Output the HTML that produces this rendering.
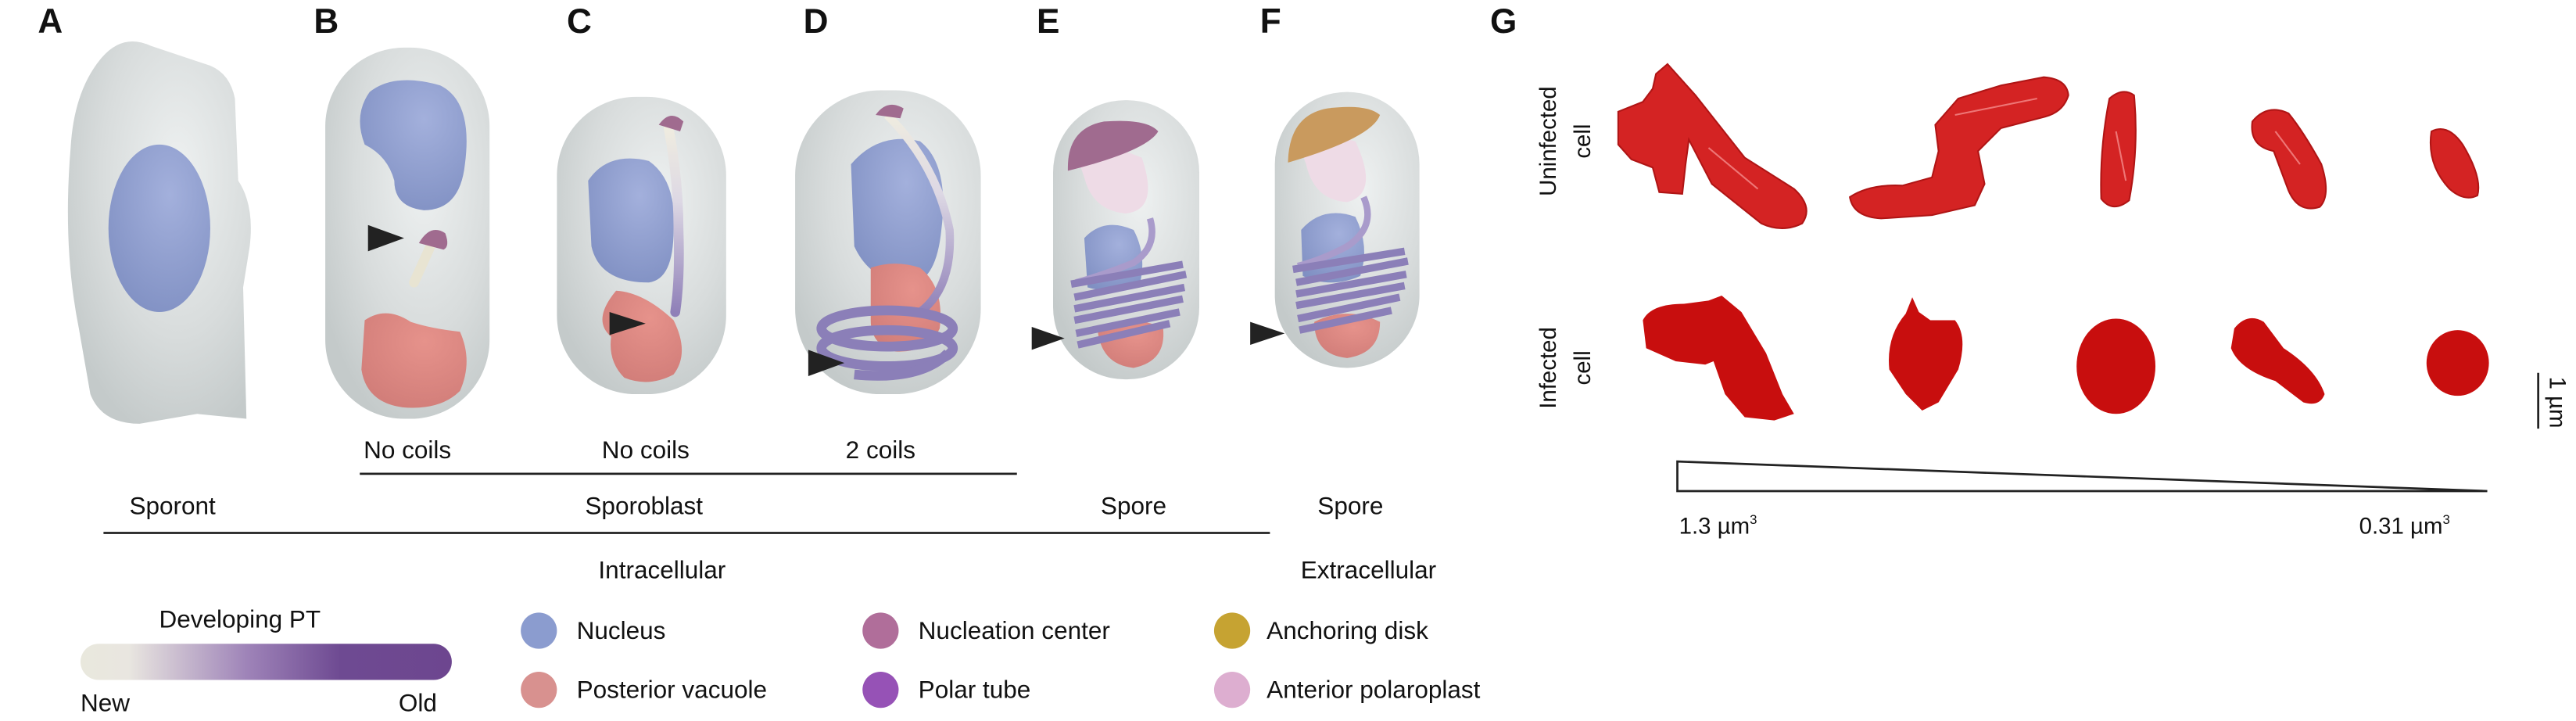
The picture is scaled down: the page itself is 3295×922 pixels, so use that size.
<!DOCTYPE html>
<html><head><meta charset="utf-8"><style>
html,body{margin:0;padding:0;background:#fff;}
svg{display:block;}
text{font-family:"Liberation Sans",sans-serif;fill:#111;}
</style></head><body>
<svg width="3295" height="922" viewBox="0 0 1568 439" preserveAspectRatio="none" xmlns="http://www.w3.org/2000/svg">
<defs>
<radialGradient id="cell" cx="0.6" cy="0.35" r="0.7">
<stop offset="0" stop-color="#eef1f1"/><stop offset="0.6" stop-color="#d8dcdc"/><stop offset="1" stop-color="#c4caca"/>
</radialGradient>
<radialGradient id="nuc" cx="0.6" cy="0.3" r="0.8"><stop offset="0" stop-color="#a3b0dc"/><stop offset="1" stop-color="#7f8fc2"/></radialGradient>
<radialGradient id="vac" cx="0.6" cy="0.3" r="0.8"><stop offset="0" stop-color="#e6928b"/><stop offset="1" stop-color="#d07c78"/></radialGradient>
<linearGradient id="pt" x1="0" x2="1"><stop offset="0" stop-color="#e9e8dd"/><stop offset="0.13" stop-color="#e9e6e0"/><stop offset="0.45" stop-color="#9e83b8"/><stop offset="0.7" stop-color="#6e4a92"/><stop offset="1" stop-color="#6d468f"/></linearGradient>
<linearGradient id="tubeC" x1="0" y1="0" x2="0" y2="1"><stop offset="0" stop-color="#efece0"/><stop offset="0.4" stop-color="#ddd8e4"/><stop offset="1" stop-color="#8f80b8"/></linearGradient>
</defs>

<g font-weight="bold" font-size="21">
<text x="23" y="20">A</text><text x="191" y="20">B</text><text x="345" y="20">C</text>
<text x="489" y="20">D</text><text x="631" y="20">E</text><text x="767" y="20">F</text><text x="907" y="20">G</text>
</g>

<!-- A -->
<path d="M62,35 Q75,20 92,28 L128,40 Q140,45 143,60 L145,110 Q155,125 152,150 L148,175 L150,255 L120,252 L85,258 Q62,258 55,240 L48,200 Q38,150 43,90 Q45,55 62,35Z" fill="url(#cell)"/>
<ellipse cx="97" cy="139" rx="31" ry="51" fill="url(#nuc)"/>

<!-- B -->
<rect x="198" y="29" width="100" height="226" rx="48" fill="url(#cell)"/>
<path d="M225,56 Q240,44 268,52 Q288,62 283,100 Q280,128 258,128 Q240,126 240,110 Q236,95 222,88 Q215,70 225,56Z" fill="url(#nuc)"/>
<path d="M222,195 Q235,186 250,196 Q262,200 280,202 Q288,220 280,238 Q268,250 245,248 Q223,245 220,225Z" fill="url(#vac)"/>
<line x1="262" y1="150" x2="252" y2="172" stroke="#e8e4d2" stroke-width="6" stroke-linecap="round"/>
<path d="M255,148 Q262,136 271,142 Q274,150 270,152Z" fill="#a06b8f"/>
<polygon points="224,137 246,145 224,153" fill="#222"/>

<!-- C -->
<rect x="339" y="59" width="103" height="181" rx="48" fill="url(#cell)"/>
<path d="M358,110 Q370,92 395,98 Q412,110 410,140 Q410,170 395,172 Q365,172 360,150Z" fill="url(#nuc)"/>
<path d="M375,177 Q392,178 410,195 Q420,215 410,228 Q395,236 380,230 Q370,220 372,205 Q360,195 375,177Z" fill="url(#vac)"/>
<path d="M407,78 Q413,110 413,140 Q414,170 411,190" fill="none" stroke="url(#tubeC)" stroke-width="6" stroke-linecap="round"/>
<path d="M401,76 Q408,66 416,74 L414,80Z" fill="#a06b8f"/>
<polygon points="371,190 393,197 371,204" fill="#222"/>

<!-- D -->
<rect x="484" y="55" width="113" height="185" rx="52" fill="url(#cell)"/>
<path d="M518,100 Q535,80 560,86 Q578,100 573,140 Q570,170 555,173 Q530,172 520,150Z" fill="url(#nuc)"/>
<path d="M530,163 Q545,158 560,163 Q575,175 572,200 Q565,215 545,214 Q530,210 530,195Z" fill="url(#vac)"/>
<path d="M540,70 Q570,100 578,140 Q580,175 560,190" fill="none" stroke="url(#tubeC)" stroke-width="5"/>
<path d="M533,70 Q540,60 550,66 L548,72Z" fill="#a06b8f"/>
<g fill="none" stroke="#8b7fb8" stroke-width="6">
<ellipse cx="540" cy="200" rx="40" ry="11"/><ellipse cx="540" cy="212" rx="40" ry="11"/>
<path d="M520,228 Q560,232 577,215"/>
</g>
<polygon points="492,213 514,221 492,229" fill="#222"/>

<!-- E -->
<rect x="641" y="61" width="89" height="170" rx="44" fill="url(#cell)"/>
<path d="M653,88 Q665,84 695,96 Q706,128 685,130 Q665,128 660,108Z" fill="#eedbe6"/>
<path d="M650,102 Q650,78 672,74 Q698,72 705,80 Q698,92 650,104Z" fill="#a06b8f"/>
<path d="M660,145 Q672,132 690,140 Q698,155 694,172 Q680,180 662,175Z" fill="url(#nuc)"/>
<path d="M668,200 Q688,190 708,200 Q710,220 690,224 Q670,222 668,200Z" fill="url(#vac)"/>
<path d="M700,133 Q705,150 690,160 Q670,168 655,172" fill="none" stroke="#a99bcb" stroke-width="4"/>
<g stroke="#8b7fb8" stroke-width="4.5" fill="none">
<path d="M652,173 L720,161"/><path d="M654,181 L722,167"/><path d="M654,188 L721,175"/><path d="M654,195 L720,182"/><path d="M655,203 L718,190"/><path d="M656,210 L712,197"/>
</g>
<polygon points="628,199 648,206 628,213" fill="#222"/>

<!-- F -->
<rect x="776" y="56" width="88" height="168" rx="44" fill="url(#cell)"/>
<path d="M790,86 Q800,80 825,86 Q840,118 820,123 Q800,122 795,100Z" fill="#eedbe6"/>
<path d="M784,98 Q785,70 808,66 Q832,63 840,70 Q835,84 784,99Z" fill="#c99a5e"/>
<path d="M792,140 Q805,125 825,132 Q834,150 828,168 Q810,176 793,168Z" fill="url(#nuc)"/>
<path d="M800,196 Q820,186 840,196 Q840,215 820,218 Q800,216 800,196Z" fill="url(#vac)"/>
<path d="M830,120 Q838,138 820,150 Q805,158 790,162" fill="none" stroke="#a99bcb" stroke-width="4"/>
<g stroke="#8b7fb8" stroke-width="4.5" fill="none">
<path d="M787,164 L855,153"/><path d="M789,172 L857,159"/><path d="M789,179 L856,167"/><path d="M789,186 L855,174"/><path d="M790,194 L852,181"/><path d="M791,201 L847,189"/>
</g>
<polygon points="761,196 782,203 761,210" fill="#222"/>

<g font-size="15">
<text x="248" y="279" text-anchor="middle">No coils</text>
<text x="393" y="279" text-anchor="middle">No coils</text>
<text x="536" y="279" text-anchor="middle">2 coils</text>
<text x="105" y="313" text-anchor="middle">Sporont</text>
<text x="392" y="313" text-anchor="middle">Sporoblast</text>
<text x="690" y="313" text-anchor="middle">Spore</text>
<text x="822" y="313" text-anchor="middle">Spore</text>
<text x="403" y="352" text-anchor="middle">Intracellular</text>
<text x="833" y="352" text-anchor="middle">Extracellular</text>
</g>
<line x1="219" y1="288.5" x2="619" y2="288.5" stroke="#222" stroke-width="1.3"/>
<line x1="63" y1="324.5" x2="773" y2="324.5" stroke="#222" stroke-width="1.3"/>

<text x="146" y="382" font-size="15" text-anchor="middle">Developing PT</text>
<rect x="49" y="392" width="226" height="22" rx="11" fill="url(#pt)"/>
<text x="49" y="433" font-size="15">New</text>
<text x="266" y="433" font-size="15" text-anchor="end">Old</text>
<g font-size="15">
<ellipse cx="328" cy="384" rx="11" ry="11" fill="#8b9ccf"/><text x="351" y="389">Nucleus</text>
<ellipse cx="328" cy="420" rx="11" ry="11" fill="#d8918f"/><text x="351" y="425">Posterior vacuole</text>
<ellipse cx="536" cy="384" rx="11" ry="11" fill="#b06e9a"/><text x="559" y="389">Nucleation center</text>
<ellipse cx="536" cy="420" rx="11" ry="11" fill="#9652b6"/><text x="559" y="425">Polar tube</text>
<ellipse cx="750" cy="384" rx="11" ry="11" fill="#c6a332"/><text x="771" y="389">Anchoring disk</text>
<ellipse cx="750" cy="420" rx="11" ry="11" fill="#ddaed0"/><text x="771" y="425">Anterior polaroplast</text>
</g>

<g font-size="14">
<text transform="translate(947,86) rotate(-90)" text-anchor="middle">Uninfected</text>
<text transform="translate(968,86) rotate(-90)" text-anchor="middle">cell</text>
<text transform="translate(947,224) rotate(-90)" text-anchor="middle">Infected</text>
<text transform="translate(968,224) rotate(-90)" text-anchor="middle">cell</text>
</g>

<g fill="#d42323" stroke="#b01515" stroke-width="1">
<path d="M1008,45 L1015,39 L1032,58 L1062,96 L1092,115 Q1104,126 1097,136 Q1085,142 1072,136 L1042,112 L1028,85 L1026,100 L1024,118 L1010,117 L1006,102 L993,97 L985,88 L985,68 L1000,62 L1006,54Z"/>
<path d="M1126,120 Q1138,112 1158,113 L1176,108 L1180,92 L1178,76 L1192,60 L1218,52 L1244,47 Q1258,48 1259,58 Q1256,68 1245,71 L1218,78 L1204,92 L1208,112 L1202,125 L1176,131 L1145,133 Q1128,132 1126,120Z"/>
<path d="M1284,60 Q1292,53 1299,58 Q1302,90 1296,122 Q1286,130 1279,121 Q1278,90 1284,60Z"/>
<path d="M1371,74 Q1380,63 1393,69 Q1402,80 1413,100 Q1419,119 1412,126 Q1399,130 1393,116 L1384,92 Q1369,89 1371,74Z"/>
<path d="M1480,80 Q1490,75 1499,88 Q1511,108 1508,119 Q1500,123 1491,115 Q1477,100 1480,80Z"/>
</g>
<g fill="none" stroke="#ee7676" stroke-width="1">
<path d="M1040,90 L1070,115"/><path d="M1190,70 L1240,60"/><path d="M1288,80 L1294,110"/><path d="M1385,80 L1400,100"/>
</g>
<g fill="#c80e0e">
<path d="M1000,195 Q1005,185 1025,185 L1040,183 L1048,180 L1060,190 L1075,215 L1085,240 L1092,252 L1080,256 L1062,254 L1050,240 L1043,220 L1038,222 L1020,220 L1002,212Z"/>
<path d="M1160,191 L1164,181 L1168,190 L1175,195 L1190,195 Q1198,205 1192,225 L1180,245 L1170,250 L1160,240 L1150,225 Q1148,205 1160,191Z"/>
<ellipse cx="1288" cy="223" rx="24" ry="29"/>
<path d="M1360,200 Q1368,190 1378,196 L1390,212 Q1410,225 1415,240 Q1412,248 1402,245 L1385,232 Q1363,225 1358,212Z"/>
<ellipse cx="1496" cy="221" rx="19" ry="20"/>
</g>

<line x1="1545" y1="227" x2="1545" y2="261" stroke="#222" stroke-width="1.3"/>
<text transform="translate(1552,245) rotate(90)" font-size="14" text-anchor="middle">1 µm</text>

<path d="M1021,281 L1514,299 L1021,299Z" fill="none" stroke="#222" stroke-width="1.3"/>
<text x="1022" y="325" font-size="14">1.3 µm<tspan font-size="8" dy="-6">3</tspan></text>
<text x="1436" y="325" font-size="14">0.31 µm<tspan font-size="8" dy="-6">3</tspan></text>
</svg>
</body></html>
